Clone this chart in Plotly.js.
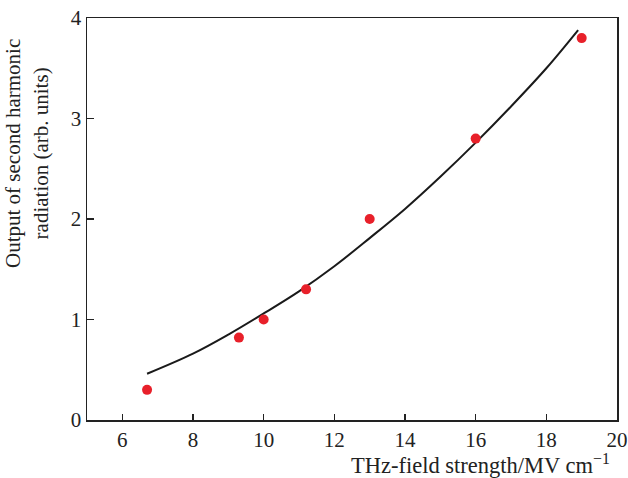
<!DOCTYPE html>
<html>
<head>
<meta charset="utf-8">
<script src="https://cdn.plot.ly/plotly-3.0.1.min.js"></script>
<style>html,body{margin:0;padding:0;background:#fff}#chart{width:628px;height:478px}</style>
</head>
<body>
<div id="chart"></div>
<script>
// Measured points
const fieldStrength = [6.7, 9.3, 10.0, 11.2, 13.0, 16.0, 19.0];
const shgOutput = [0.30, 0.82, 1.00, 1.30, 2.00, 2.80, 3.80];
// Fitted curve
const fitX = [6.7, 8, 9, 10, 11, 12, 13, 14, 15, 16, 17, 18, 18.9];
const fitY = [0.46, 0.66, 0.85, 1.06, 1.28, 1.53, 1.81, 2.10, 2.42, 2.76, 3.12, 3.50, 3.88];
const xTicks = [6, 8, 10, 12, 14, 16, 18, 20];
const yTicks = [0, 1, 2, 3, 4];

const serif = '"Liberation Serif", "DejaVu Serif", serif';
const traces = [
  {x: fitX, y: fitY, mode: 'lines', type: 'scatter', line: {color: '#1a1a1a', width: 2, shape: 'spline'}, hoverinfo: 'skip'},
  {x: fieldStrength, y: shgOutput, mode: 'markers', type: 'scatter', marker: {color: '#e8202a', size: 10}}
];
const layout = {
  width: 628, height: 478,
  margin: {l: 87, r: 11, t: 18, b: 58},
  paper_bgcolor: '#fff', plot_bgcolor: '#fff',
  showlegend: false,
  font: {family: serif, size: 21, color: '#222'},
  xaxis: {range: [5, 20], tickvals: xTicks, ticks: 'inside', ticklen: 6, tickwidth: 1.5, tickcolor: '#222',
          showline: true, linecolor: '#222', linewidth: 1.5, mirror: true, showgrid: false, zeroline: false,
          tickfont: {family: serif, size: 21, color: '#222'}},
  yaxis: {range: [0, 4], tickvals: yTicks, ticks: 'inside', ticklen: 7, tickwidth: 1.5, tickcolor: '#222',
          showline: true, linecolor: '#222', linewidth: 1.5, mirror: true, showgrid: false, zeroline: false,
          tickfont: {family: serif, size: 21, color: '#222'}},
  annotations: [
    {text: 'THz-field strength/MV cm<sup>−1</sup>', xref: 'paper', yref: 'paper', x: 0.742, xanchor: 'center',
     y: -0.07, yanchor: 'top', showarrow: false, font: {family: serif, size: 22.5, color: '#222'}},
    {text: 'Output of second harmonic<br>radiation (arb. units)', xref: 'paper', yref: 'paper', textangle: -90,
     x: -0.113, xanchor: 'center', y: 0.662, yanchor: 'middle', showarrow: false,
     font: {family: serif, size: 21, color: '#222'}}
  ]
};
Plotly.newPlot('chart', traces, layout, {displayModeBar: false, staticPlot: true});
</script>
</body>
</html>
